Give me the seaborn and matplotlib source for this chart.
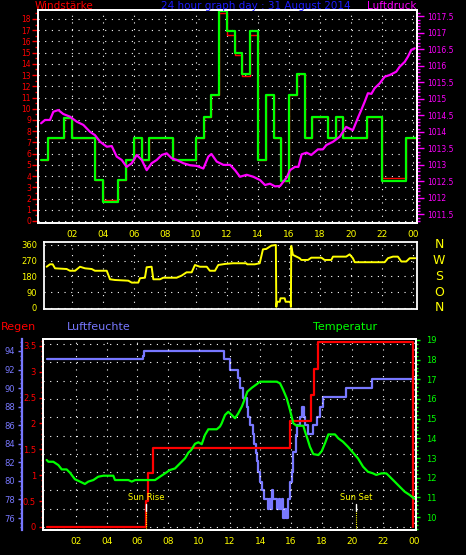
import numpy as np
import pandas as pd
import seaborn as sns
import matplotlib.pyplot as plt
import matplotlib.transforms as mtransforms
from matplotlib.ticker import MultipleLocator, FuncFormatter

# ---------------- data ----------------
hour_ticks = [2, 4, 6, 8, 10, 12, 14, 16, 18, 20, 22, 24]
hour_labels = ['02', '04', '06', '08', '10', '12', '14', '16', '18', '20', '22', '00']

# wind force, half-hourly steps (green = shown value, red = second series behind it)
wind_hours = list(np.arange(0, 24, 0.5)) + [24.15]
wind_green = [5.45, 7.35, 7.35, 9.2, 7.35, 7.35, 7.35, 3.65, 1.65, 1.65,
              3.65, 5.45, 7.35, 5.45, 7.35, 7.35, 7.35, 5.45, 5.45, 5.45,
              7.35, 9.3, 11.2, 18.7, 16.9, 15.0, 13.1, 16.9, 5.45, 11.2,
              7.4, 3.6, 11.2, 13.1, 7.4, 9.3, 9.3, 7.4, 9.3, 7.4,
              7.4, 7.4, 9.3, 9.3, 3.6, 3.6, 3.6, 7.4, 7.4]
wind_red = [5.45, 7.35, 7.35, 9.2, 7.35, 7.35, 7.35, 3.65, 1.85, 1.85,
            3.65, 5.45, 7.35, 5.45, 7.35, 7.35, 7.35, 5.45, 5.45, 5.45,
            7.35, 9.3, 11.2, 18.5, 16.6, 14.8, 12.9, 16.6, 5.45, 11.2,
            7.4, 3.6, 11.2, 13.1, 7.4, 9.3, 9.3, 7.4, 9.3, 7.4,
            7.4, 7.4, 9.3, 9.3, 3.8, 3.8, 3.8, 7.4, 7.4]
wind_ticks = list(range(0, 19))

# air pressure (hPa)
pres_hours = [0.03, 0.28, 0.6, 0.82, 1.14, 1.46, 1.89, 2.32, 2.75, 3.18, 3.5, 3.83,
              4.26, 4.58, 4.9, 5.22, 5.54, 5.87, 6.19, 6.51, 6.83, 7.15, 7.48, 7.8,
              8.12, 8.44, 8.76, 9.19, 9.62, 10.05, 10.48, 10.8, 11.0, 11.34, 11.77, 12.2,
              12.52, 12.84, 13.27, 13.7, 14.13, 14.45, 14.77, 15.09, 15.42, 15.63, 15.85, 16.06,
              16.38, 16.6, 16.81, 17.13, 17.43, 17.86, 18.18, 18.4, 18.83, 19.26, 19.68, 20.11,
              20.44, 20.65, 20.87, 21.08, 21.3, 21.51, 21.84, 22.16, 22.48, 22.69, 22.9, 23.12,
              23.45, 23.66, 23.87, 24.09]
pres_hpa = [1014.26, 1014.36, 1014.36, 1014.61, 1014.66, 1014.54, 1014.46, 1014.31, 1014.21, 1014.0, 1013.9, 1013.7,
            1013.55, 1013.57, 1013.25, 1013.15, 1012.94, 1013.05, 1013.3, 1013.15, 1012.84, 1013.05, 1013.15, 1013.3,
            1013.35, 1013.2, 1013.15, 1013.05, 1012.99, 1012.97, 1012.89, 1013.25, 1013.33, 1013.1, 1013.0, 1013.0,
            1012.84, 1012.64, 1012.7, 1012.64, 1012.54, 1012.39, 1012.43, 1012.35, 1012.36, 1012.49, 1012.62, 1012.84,
            1012.94, 1012.94, 1013.32, 1013.37, 1013.3, 1013.47, 1013.47, 1013.6, 1013.7, 1013.85, 1014.15, 1014.05,
            1014.43, 1014.66, 1014.91, 1015.17, 1015.15, 1015.32, 1015.47, 1015.67, 1015.72, 1015.77, 1015.82, 1015.97,
            1016.12, 1016.28, 1016.48, 1016.53]
pres_ticks = [1011.5, 1012, 1012.5, 1013, 1013.5, 1014, 1014.5, 1015, 1015.5, 1016, 1016.5, 1017, 1017.5]

# wind direction (degrees)
dir_hours = [0.39, 0.6, 0.78, 0.93, 1.68, 1.89, 2.22, 2.54, 2.86, 3.29, 3.5, 4.26,
             4.47, 4.79, 5.65, 5.87, 6.29, 6.4, 6.72, 6.83, 7.15, 7.26, 7.69, 7.9,
             8.76, 9.08, 9.4, 9.73, 9.94, 10.26, 10.7, 10.9, 11.23, 11.44, 11.87, 12.39,
             13.25, 13.3, 13.79, 14.11, 14.32, 14.53, 14.86, 15.15, 15.18, 15.22, 15.4, 15.45,
             15.72, 15.78, 16.1, 16.12, 16.14, 16.25, 16.68, 16.79, 17.22, 17.43, 18.08, 18.29,
             18.72, 18.83, 19.68, 19.9, 20.11, 20.23, 22.16, 22.37, 22.69, 23.01, 23.23, 23.55,
             23.77, 24.13]
dir_deg = [235, 249, 249, 226, 222, 212, 212, 235, 226, 222, 212, 212,
           163, 159, 155, 144, 144, 169, 172, 232, 235, 163, 163, 172,
           172, 184, 203, 203, 245, 235, 235, 212, 212, 245, 251, 255,
           255, 249, 249, 255, 335, 337, 356, 360, 5, 34, 34, 54,
           54, 34, 34, 5, 354, 303, 284, 274, 274, 287, 287, 274,
           274, 293, 293, 306, 284, 261, 261, 284, 293, 293, 265, 265,
           284, 284]
dir_ticks = [0, 90, 180, 270, 360]
compass = ['N', 'O', 'S', 'W', 'N']

# rain (mm, cumulative steps)
rain_hours = [0.09, 6.54, 6.67, 7.04, 15.94, 17.29, 17.5, 17.79, 23.95]
rain_mm = [0, 0.5, 1.04, 1.53, 2.05, 2.55, 3.05, 3.58, 0]
rain_ticks = [0, 0.5, 1, 1.5, 2, 2.5, 3, 3.5]

# humidity (%)
hum_hours = [0.09, 6.38, 6.45, 11.66, 12.0, 12.53, 12.68, 12.9, 13.12, 13.22, 13.34, 13.5,
             13.61, 13.71, 13.77, 13.88, 13.99, 14.1, 14.25, 14.5, 14.6, 14.68, 14.75, 14.86,
             15.12, 15.2, 15.28, 15.4, 15.5, 15.6, 15.7, 15.83, 15.94, 16.05, 16.16, 16.33,
             16.38, 16.6, 16.7, 16.85, 16.92, 17.13, 17.46, 17.68, 17.9, 18.07, 19.6, 21.3, 24.13]
hum_pct = [93.1, 93.5, 94.0, 93.1, 92.0, 91.05, 90.0, 88.9, 88.0, 86.9, 86.0, 85.0,
           84.0, 83.0, 82.1, 81.0, 79.9, 79.0, 78.1, 77.0, 78.1, 77.0, 79.0, 78.1,
           77.0, 78.1, 77.0, 78.1, 76.0, 77.0, 76.0, 78.1, 79.9, 81.0, 83.1, 84.9,
           86.0, 86.9, 88.0, 86.9, 86.0, 85.05, 86.0, 86.9, 88.0, 89.0, 90.05, 91.0, 91.0]
hum_ticks = [76, 78, 80, 82, 84, 86, 88, 90, 92, 94]

# temperature (deg C)
temp_hours = [0.09, 0.2, 0.52, 0.85, 1.07, 1.39, 1.61, 1.93, 2.26, 2.58, 2.8, 3.13,
              3.45, 3.78, 4.43, 4.54, 5.41, 5.63, 5.86, 7.15, 7.47, 7.8, 8.12, 8.45,
              8.78, 9.1, 9.32, 9.5, 9.75, 9.97, 10.19, 10.4, 10.62, 11.17, 11.38, 11.49,
              11.71, 11.92, 12.14, 12.36, 12.57, 12.8, 13.01, 13.16, 13.45, 13.77, 13.99, 15.07,
              15.29, 15.5, 15.73, 15.94, 16.16, 16.38, 16.81, 16.92, 17.07, 17.24, 17.46, 17.79,
              18.01, 18.22, 18.44, 18.87, 19.09, 19.39, 19.72, 20.05, 20.37, 20.7, 21.02, 21.35,
              21.56, 21.9, 22.22, 22.44, 22.76, 23.09, 23.41, 23.74, 24.07]
temp_c = [12.9, 12.81, 12.81, 12.64, 12.42, 12.42, 12.25, 11.92, 11.8, 11.68, 11.8, 11.88,
          12.05, 12.1, 12.1, 11.88, 11.88, 11.8, 11.88, 11.88, 12.05, 12.22, 12.39, 12.47,
          12.73, 12.98, 13.27, 13.4, 13.72, 13.8, 13.7, 14.17, 14.46, 14.46, 14.6, 14.76,
          15.19, 15.35, 15.19, 15.02, 15.27, 15.61, 16.03, 16.37, 16.57, 16.75, 16.88, 16.88,
          16.8, 16.46, 16.03, 15.44, 14.76, 14.64, 14.64, 14.34, 14.0, 13.57, 13.2, 13.15,
          13.35, 13.75, 14.2, 14.2, 14.0, 13.83, 13.57, 13.27, 12.98, 12.56, 12.3, 12.22,
          12.14, 12.22, 12.22, 12.05, 11.8, 11.54, 11.29, 11.12, 10.92]
temp_ticks = [10, 11, 12, 13, 14, 15, 16, 17, 18, 19]

sun_events = [6.56, 20.24]
sun_labels = ['Sun Rise', 'Sun Set']

# ---------------- styling ----------------
RED = '#ff0000'
GREEN = '#00ff00'
MAGENTA = '#ff00ff'
YELLOW = '#ffff00'
BLUE = '#1c1cff'
LILAC = '#7878ff'
dots = (0, (1, 5))

sns.set_theme(style='dark', rc={'axes.facecolor': 'black', 'figure.facecolor': 'black',
                                'axes.edgecolor': 'white', 'axes.grid': False})
plt.rcParams['font.family'] = ['DejaVu Sans']

W, H = 466, 555
fig = plt.figure(figsize=(W / 100, H / 100), dpi=100)


def box(left, top, right, bottom):
    return fig.add_axes([left / W, 1 - bottom / H, (right - left) / W, (bottom - top) / H])


def frame(ax):
    for s in ax.spines.values():
        s.set_color('white')
        s.set_linewidth(1.3)


def ftext(x, y, s, **kw):
    fig.text(x / W, 1 - y / H, s, **kw)


def line(ax, x, y, color, lw, steps=False):
    kw = dict(drawstyle='steps-post') if steps else {}
    sns.lineplot(x=x, y=y, ax=ax, color=color, lw=lw, estimator=None, sort=False,
                 legend=False, **kw)
    ax.set_xlabel('')
    ax.set_ylabel('')


label_fmt = FuncFormatter(lambda v, _: f'{v:g}')

# ---------------- panel 1: wind force & pressure ----------------
ax1 = box(38, 10, 417, 223)
frame(ax1)
line(ax1, wind_hours, wind_red, RED, 1.0, steps=True)
line(ax1, wind_hours, wind_green, GREEN, 1.6, steps=True)
ax1.set_xlim(-0.17, 24.24)
ax1.set_ylim(-0.18, 18.8)
ax1.set_xticks(hour_ticks, hour_labels)
ax1.xaxis.set_minor_locator(MultipleLocator(1))
ax1.set_yticks(wind_ticks)
ax1.yaxis.set_minor_locator(MultipleLocator(0.5))
ax1.tick_params(axis='x', which='both', color='white', labelcolor=YELLOW, labelsize=6.5,
                length=3, width=1, pad=2)
ax1.tick_params(axis='x', which='minor', length=2)
ax1.tick_params(axis='y', which='both', color=RED, labelcolor=RED, labelsize=5.5,
                length=4, width=1, pad=1)
ax1.tick_params(axis='y', which='minor', length=2)
ax1.grid(True, which='major', color='white', linestyle=dots, linewidth=0.8)

ax1p = ax1.twinx()
frame(ax1p)
line(ax1p, pres_hours, pres_hpa, MAGENTA, 1.6)
ax1p.set_ylim(1011.24, 1017.69)
ax1p.set_yticks(pres_ticks)
ax1p.yaxis.set_major_formatter(label_fmt)
ax1p.yaxis.set_minor_locator(MultipleLocator(0.1))
ax1p.tick_params(axis='y', which='both', color=MAGENTA, labelcolor=MAGENTA, labelsize=5.5,
                 length=5, width=1, pad=2)
ax1p.tick_params(axis='y', which='minor', length=2)
ax1p.grid(False)

ftext(35, 6, 'Windstärke', color=RED, fontsize=7.5, ha='left', va='center')
ftext(256, 6, '24 hour graph day : 31 August 2014', color=BLUE, fontsize=7.5,
      ha='center', va='center')
ftext(416, 6, 'Luftdruck', color=MAGENTA, fontsize=7.5, ha='right', va='center')

# ---------------- panel 2: wind direction ----------------
ax2 = box(44, 242, 417, 309)
frame(ax2)
line(ax2, dir_hours, dir_deg, YELLOW, 1.4)
ax2.set_xlim(0.22, 24.24)
ax2.set_ylim(-7.5, 377)
ax2.set_xticks(hour_ticks)
ax2.tick_params(axis='x', which='both', bottom=False, labelbottom=False)
ax2.set_yticks(dir_ticks)
ax2.yaxis.set_minor_locator(MultipleLocator(18))
ax2.tick_params(axis='y', which='both', color=YELLOW, labelcolor=YELLOW, labelsize=6,
                length=4, width=1, pad=1)
ax2.tick_params(axis='y', which='minor', length=2)
ax2.grid(True, which='major', color='white', linestyle=dots, linewidth=0.8)
blend2 = mtransforms.blended_transform_factory(ax2.transAxes, ax2.transData)
for d, lab in zip(dir_ticks, compass):
    ax2.text(1.059, d, lab, transform=blend2, color=YELLOW, fontsize=9,
             ha='center', va='center', clip_on=False)

# ---------------- panel 3: rain, humidity, temperature ----------------
ax3 = box(43, 339, 416, 530)
frame(ax3)
ax3.set_zorder(1)
ax3.patch.set_visible(False)
line(ax3, rain_hours, rain_mm, RED, 1.6, steps=True)
ax3.set_xlim(-0.15, 24.15)
ax3.set_ylim(-0.058, 3.63)
ax3.set_xticks(hour_ticks, hour_labels)
ax3.xaxis.set_minor_locator(MultipleLocator(1))
ax3.set_yticks(rain_ticks)
ax3.yaxis.set_major_formatter(label_fmt)
ax3.yaxis.set_minor_locator(MultipleLocator(0.1))
ax3.tick_params(axis='x', which='both', color='white', labelcolor=YELLOW, labelsize=6.5,
                length=3, width=1, pad=2)
ax3.tick_params(axis='x', which='minor', length=2)
ax3.tick_params(axis='y', which='both', color=RED, labelcolor=RED, labelsize=6,
                length=3, width=1, pad=2)
ax3.tick_params(axis='y', which='minor', length=1.5)
ax3.grid(True, axis='x', which='major', color='white', linestyle=dots, linewidth=0.8)
for g in np.linspace(0, 3.53, 11):
    ax3.axhline(g, color='white', linestyle=dots, linewidth=0.8, zorder=0.5)

axH = ax3.twinx()
axH.set_zorder(0)
line(axH, hum_hours, hum_pct, LILAC, 1.6, steps=True)
axH.set_ylim(74.71, 95.29)
axH.set_yticks(hum_ticks)
axH.yaxis.set_minor_locator(MultipleLocator(0.5))
axH.yaxis.set_ticks_position('left')
axH.yaxis.set_label_position('left')
for name, s in axH.spines.items():
    s.set_visible(name == 'left')
# outward offset is in points: 21 px -> ~15 pt
axH.spines['left'].set_position(('outward', 15))
axH.spines['left'].set_color(LILAC)
axH.spines['left'].set_linewidth(1.6)
axH.tick_params(axis='y', which='both', left=True, right=False, labelleft=True,
                labelright=False, color=LILAC, labelcolor=LILAC, labelsize=6,
                length=3, width=1, pad=2)
axH.tick_params(axis='y', which='minor', length=1.5)
axH.grid(False)

axT = ax3.twinx()
axT.set_zorder(2)
axT.patch.set_visible(False)
frame(axT)
line(axT, temp_hours, temp_c, GREEN, 1.6)
axT.set_ylim(9.34, 19.05)
axT.set_yticks(temp_ticks)
axT.yaxis.set_minor_locator(MultipleLocator(0.2))
axT.tick_params(axis='y', which='both', color=GREEN, labelcolor=GREEN, labelsize=6,
                length=3, width=1, pad=4)
axT.tick_params(axis='y', which='minor', length=1.5)
axT.grid(False)

blend3 = mtransforms.blended_transform_factory(ax3.transData, ax3.transAxes)
for t, lab in zip(sun_events, sun_labels):
    ax3.plot([t, t], [0.0995, 0.136], color='white', lw=1, transform=blend3, zorder=3)
    ax3.plot([t, t], [0.005, 0.0995], color=YELLOW, lw=0.8, linestyle=(0, (1, 1)),
             transform=blend3, zorder=3)
    ax3.text(t, 0.168, lab, transform=blend3, color=YELLOW, fontsize=6,
             ha='center', va='center')

ftext(1, 327, 'Regen', color=RED, fontsize=8, ha='left', va='center')
ftext(67, 327, 'Luftfeuchte', color=LILAC, fontsize=8, ha='left', va='center')
ftext(313, 327, 'Temperatur', color=GREEN, fontsize=8, ha='left', va='center')

fig.savefig('out.png', dpi=100, facecolor='black')
